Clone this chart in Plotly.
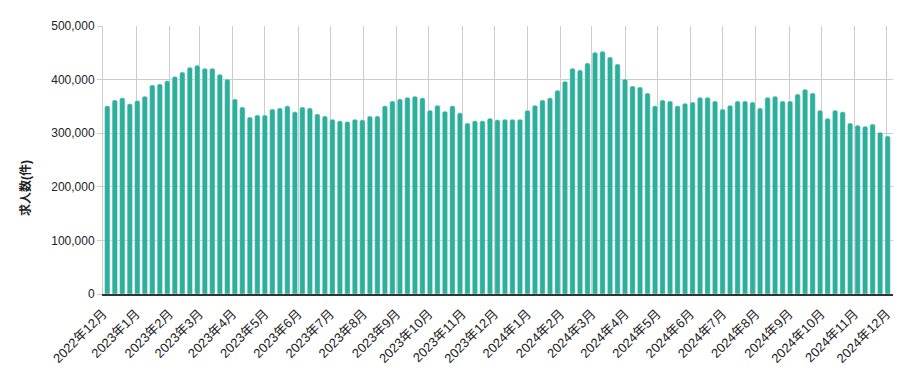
import pandas as pd
import plotly.graph_objects as go

# Weekly (Monday) dates starting 2022-12-05
week_start = "2022-12-05"
n_weeks = 105
dates = pd.date_range(week_start, periods=n_weeks, freq="7D")

job_counts = [
    351000, 362000, 366000, 355000, 361000, 369000, 390000, 392000, 398000, 406000,
    414000, 423000, 427000, 421000, 421000, 410000, 401000, 364000, 349000, 330000,
    334000, 334000, 345000, 347000, 351000, 340000, 349000, 347000, 336000, 332000,
    326000, 323000, 322000, 326000, 325000, 332000, 332000, 351000, 360000, 364000,
    367000, 369000, 366000, 343000, 352000, 341000, 351000, 338000, 319000, 323000,
    323000, 328000, 325000, 326000, 326000, 326000, 343000, 352000, 362000, 366000,
    380000, 397000, 421000, 418000, 431000, 451000, 453000, 442000, 429000, 401000,
    388000, 386000, 375000, 351000, 362000, 360000, 351000, 356000, 358000, 367000,
    367000, 360000, 345000, 352000, 360000, 360000, 358000, 347000, 367000, 369000,
    360000, 360000, 373000, 382000, 375000, 343000, 328000, 343000, 340000, 319000,
    315000, 313000, 317000, 302000, 295000,
]

tick_dates = [
    "2022-12-01", "2023-01-01", "2023-02-01", "2023-03-01", "2023-04-01", "2023-05-01",
    "2023-06-01", "2023-07-01", "2023-08-01", "2023-09-01", "2023-10-01", "2023-11-01",
    "2023-12-01", "2024-01-01", "2024-02-01", "2024-03-01", "2024-04-01", "2024-05-01",
    "2024-06-01", "2024-07-01", "2024-08-01", "2024-09-01", "2024-10-01", "2024-11-01",
    "2024-12-01",
]
tick_labels = [
    "2022年12月", "2023年1月", "2023年2月", "2023年3月", "2023年4月", "2023年5月",
    "2023年6月", "2023年7月", "2023年8月", "2023年9月", "2023年10月", "2023年11月",
    "2023年12月", "2024年1月", "2024年2月", "2024年3月", "2024年4月", "2024年5月",
    "2024年6月", "2024年7月", "2024年8月", "2024年9月", "2024年10月", "2024年11月",
    "2024年12月",
]
y_ticks = [0, 100000, 200000, 300000, 400000, 500000]
y_title = "求人数(件)"

FONT = "Liberation Sans, Arial, Noto Sans CJK JP, sans-serif"

fig = go.Figure(
    go.Bar(
        x=dates,
        y=job_counts,
        marker=dict(color="#2CB09B", cornerradius=2),
        width=5 * 24 * 3600 * 1000,
        hoverinfo="skip",
    )
)

fig.update_layout(
    width=911,
    height=371,
    margin=dict(l=103, r=18, t=26, b=77),
    paper_bgcolor="white",
    plot_bgcolor="white",
    font=dict(family=FONT, size=12, color="#222222"),
    showlegend=False,
    annotations=[
        dict(
            text="<b>" + y_title + "</b>",
            textangle=-90,
            xref="paper",
            yref="paper",
            x=-0.099,
            y=0.395,
            xanchor="center",
            yanchor="middle",
            showarrow=False,
            font=dict(size=12, color="#222222"),
        )
    ],
)

fig.update_xaxes(
    type="date",
    range=["2022-12-01", "2024-12-07"],
    tickvals=tick_dates,
    ticktext=tick_labels,
    tickangle=-45,
    showgrid=True,
    gridcolor="#cccccc",
    gridwidth=1,
    showline=True,
    linecolor="#333333",
    linewidth=2,
    ticks="",
    ticklabelstandoff=5,
    tickfont=dict(size=13, color="#222222"),
    automargin=False,
)

fig.update_yaxes(
    range=[0, 500000],
    tickvals=y_ticks,
    tickformat=",d",
    showgrid=True,
    gridcolor="#cccccc",
    gridwidth=1,
    showline=True,
    linecolor="#cccccc",
    linewidth=1,
    ticks="outside",
    ticklen=5,
    tickcolor="#cccccc",
    zeroline=False,
    tickfont=dict(size=12, color="#222222"),
    automargin=False,
)

fig.write_html(
    "out.html",
    config={"displayModeBar": False},
    post_script="document.body.style.margin='0px';",
)
